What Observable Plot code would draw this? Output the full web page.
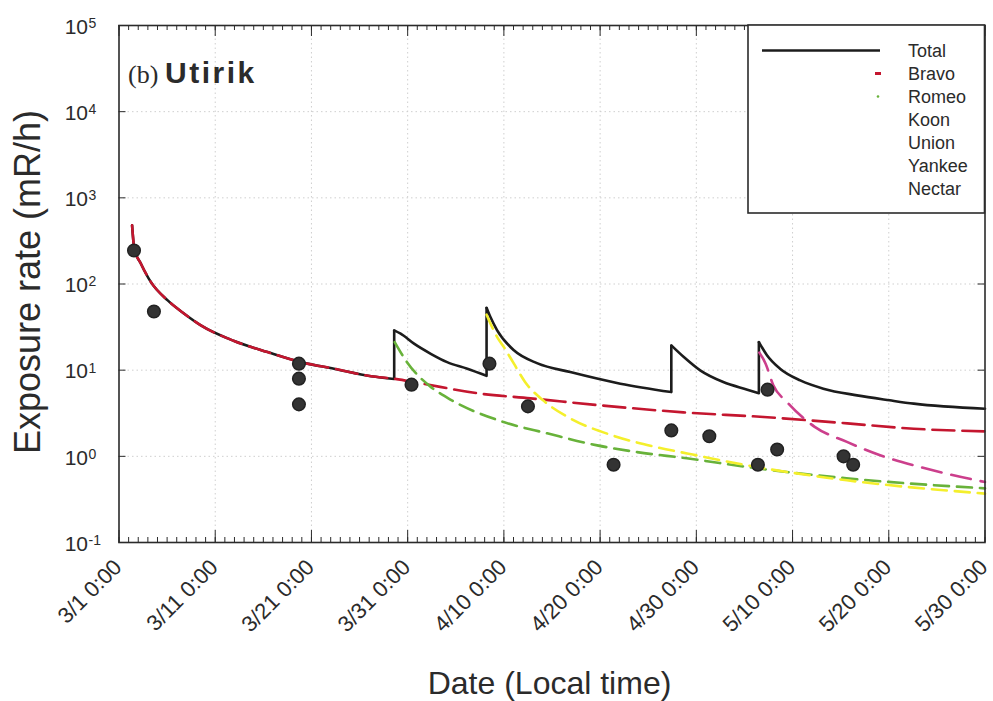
<!DOCTYPE html>
<html><head><meta charset="utf-8">
<script src="https://cdn.jsdelivr.net/npm/d3@7"></script>
<script src="https://cdn.jsdelivr.net/npm/@observablehq/plot@0.6"></script>
<style>body{margin:0;background:#fff}</style>
</head><body><div id="chart"></div>
<script>
// ---- data (days after 3/1 0:00 local time; exposure rate in mR/h) ----
const xTickDays = [0, 10, 20, 30, 40, 50, 60, 70, 80, 90];
const xTickLabels = ["3/1 0:00", "3/11 0:00", "3/21 0:00", "3/31 0:00", "4/10 0:00", "4/20 0:00", "4/30 0:00", "5/10 0:00", "5/20 0:00", "5/30 0:00"];
const yTickExps = [-1, 0, 1, 2, 3, 4, 5];

const totalDay = [1.36, 1.59, 2.28, 3.32, 5.06, 6.78, 8.51, 11.97, 15.44, 18.9, 22.35, 26.2, 28.6,
  28.6, 29.27, 30.66, 32.4, 34.1, 36.2, 38.2,
  38.2, 38.6, 39.3, 41.04, 43.5, 46.9, 52.1, 57.4,
  57.4, 58.7, 60.4, 62.8, 65.3, 66.5,
  66.5, 67.34, 68.7, 70.8, 73.2, 76.7, 80.1, 82.6, 90];
const totalRate = [479, 257, 172, 105, 64.5, 45.2, 33.1, 21.8, 16.2, 12.4, 10.4, 8.5, 7.9,
  29, 26.5, 20.3, 15.5, 12.4, 10.4, 8.6,
  53, 41.3, 29, 17, 12, 9.5, 6.97, 5.57,
  19.4, 14.2, 9.95, 7.28, 5.94, 5.4,
  21.2, 14.9, 10.4, 7.6, 6.1, 5.1, 4.47, 4.09, 3.57];
const totalSegment = [0,0,0,0,0,0,0,0,0,0,0,0,0, 1,1,1,1,1,1,1, 2,2,2,2,2,2,2,2, 3,3,3,3,3,3, 4,4,4,4,4,4,4,4,4];

const bravoDay = [1.36, 1.59, 2.28, 3.32, 5.06, 6.78, 8.51, 11.97, 15.44, 18.9, 22.35, 26.2, 28.58, 31.35, 37.6, 42.77, 50.0, 58.65, 67.0, 75.7, 82.6, 90];
const bravoRate = [479, 257, 172, 105, 64.5, 45.2, 33.1, 21.8, 16.2, 12.4, 10.4, 8.5, 7.96, 7.03, 5.33, 4.71, 3.91, 3.24, 2.86, 2.41, 2.09, 1.95];

const romeoDay = [28.65, 29.97, 32.4, 34.1, 39.97, 44.5, 49.7, 53.84, 59.0, 66.3, 75.6, 90];
const romeoRate = [21.2, 12.2, 6.4, 4.8, 2.5, 1.85, 1.34, 1.12, 0.948, 0.726, 0.556, 0.425];

const koonDay = [38.2, 39.3, 40.0, 41.04, 42.2, 44.15, 46.92, 51.07, 55.57, 59.04, 66.3, 75.65, 90];
const koonRate = [44, 24.2, 18.5, 11.9, 7.3, 4.4, 2.75, 1.78, 1.3, 1.08, 0.751, 0.527, 0.369];

const yankeeDay = [66.55, 67.2, 68.0, 69.42, 72.3, 75.65, 79.1, 83.26, 86.0, 90];
const yankeeRate = [16, 11.9, 6.67, 4.27, 2.2, 1.47, 1.03, 0.752, 0.63, 0.503];

const obsDay = [1.56, 3.63, 18.7, 18.7, 18.7, 30.4, 38.5, 42.5, 51.4, 57.4, 61.35, 66.4, 67.4, 68.4, 75.3, 76.3];
const obsRate = [245, 48, 11.9, 7.97, 4.01, 6.79, 11.9, 3.80, 0.80, 2.0, 1.71, 0.80, 5.94, 1.20, 1.0, 0.80];

const legendNames = ["Total", "Bravo", "Romeo", "Koon", "Union", "Yankee", "Nectar"];

// ---- build tables ----
const pts = (d, r) => d.map((day, i) => ({day, rate: r[i]}));
const total = totalDay.map((day, i) => ({day, rate: totalRate[i], seg: totalSegment[i]}));
const jumps = [];
for (let i = 1; i < total.length; i++) {
  if (total[i].seg !== total[i - 1].seg) jumps.push({day: total[i].day, lo: total[i - 1].rate, hi: total[i].rate});
}
const minorDays = d3.range(0, 91);
const decades = yTickExps.map(e => 10 ** e);

const W = 993, H = 701, mL = 118.5, mR = 8.5, mT = 25, mB = 159;
const pw = W - mL - mR, ph = H - mT - mB;
const ink = "#2b2b2b";
const cRed = "#c4162f", cGreen = "#68b23a", cYellow = "#f4ef2c", cMag = "#cc3f8c";
const sans = "'Liberation Sans', Arial, sans-serif";

const plot = Plot.plot({
  width: W, height: H,
  marginLeft: mL, marginRight: mR, marginTop: mT, marginBottom: mB,
  style: {fontFamily: sans, color: ink, background: "#fff"},
  x: {domain: [0, 90], axis: null},
  y: {type: "log", domain: [0.1, 1e5], axis: null},
  marks: [
    // light dotted grid
    Plot.ruleY(decades.slice(1, -1), {stroke: "#cfcfcf", strokeDasharray: "1.5,3"}),
    Plot.ruleX(xTickDays.slice(1, -1), {stroke: "#cfcfcf", strokeDasharray: "1.5,3"}),
    // inward ticks
    Plot.tickX(minorDays, {x: d => d, insetTop: ph - 5, stroke: ink}),
    Plot.tickX(xTickDays, {x: d => d, insetTop: ph - 12, stroke: ink}),
    Plot.tickX(minorDays, {x: d => d, insetBottom: ph - 5, stroke: ink}),
    Plot.tickX(xTickDays, {x: d => d, insetBottom: ph - 11, stroke: ink}),
    Plot.tickY(decades, {y: d => d, insetRight: pw - 7, stroke: ink}),
    Plot.tickY(decades, {y: d => d, insetLeft: pw - 7, stroke: ink}),
    // series
    Plot.line(total, {x: "day", y: "rate", z: "seg", stroke: "#1c1c1c", strokeWidth: 2.6, curve: "monotone-x"}),
    Plot.ruleX(jumps, {x: "day", y1: "lo", y2: "hi", stroke: "#1c1c1c", strokeWidth: 2.6}),
    Plot.line(pts(bravoDay, bravoRate), {x: "day", y: "rate", stroke: cRed, strokeWidth: 2.6, strokeDasharray: "22,8", curve: "monotone-x"}),
    Plot.line(pts(romeoDay, romeoRate), {x: "day", y: "rate", stroke: cGreen, strokeWidth: 2.6, strokeDasharray: "15,8", curve: "monotone-x"}),
    Plot.line(pts(koonDay, koonRate), {x: "day", y: "rate", stroke: cYellow, strokeWidth: 2.6, strokeDasharray: "15,8", curve: "monotone-x"}),
    Plot.line(pts(yankeeDay, yankeeRate), {x: "day", y: "rate", stroke: cMag, strokeWidth: 2.6, strokeDasharray: "20,10", curve: "monotone-x"}),
    Plot.dot(pts(obsDay, obsRate), {x: "day", y: "rate", r: 6.3, fill: "#333", stroke: "#222"}),
    Plot.frame({stroke: ink, strokeWidth: 1.6}),
    // y tick labels 10^n
    Plot.text(yTickExps, {y: e => 10 ** e, frameAnchor: "left", text: () => "10", textAnchor: "end", lineAnchor: "middle", dx: -31, dy: 1.5, fontSize: 21, fill: ink}),
    Plot.text(yTickExps, {y: e => 10 ** e, frameAnchor: "left", text: e => String(e), textAnchor: "start", lineAnchor: "middle", dx: -30.5, dy: -2, fontSize: 14, fill: ink}),
    // x tick labels
    Plot.text(xTickDays, {x: d => d, frameAnchor: "bottom", text: (d, i) => xTickLabels[i], rotate: -45, textAnchor: "end", lineAnchor: "middle", dx: -1, dy: 21, fontSize: 22, fill: ink}),
    // axis titles
    Plot.text(["Date (Local time)"], {frameAnchor: "bottom", lineAnchor: "middle", textAnchor: "middle", dy: 141, dx: -2.5, fontSize: 32, fill: ink}),
    Plot.text(["Exposure rate (mR/h)"], {frameAnchor: "left", lineAnchor: "middle", textAnchor: "middle", dx: -91, dy: -2, rotate: -90, fontSize: 36, fill: ink})
  ]
});
document.getElementById("chart").appendChild(plot);

// ---- panel title and legend ----
const svg = d3.select(plot);
const t = svg.append("text").attr("x", 128).attr("y", 83).attr("fill", ink).attr("text-anchor", "start");
t.append("tspan").attr("font-family", "'Liberation Serif', serif").attr("font-size", 26).text("(b)");
t.append("tspan").attr("x", 165).attr("font-family", sans).attr("font-weight", "bold").attr("font-size", 30).attr("letter-spacing", 2.5).text("Utirik");

const lg = svg.append("g").attr("font-family", sans).attr("font-size", 18).attr("fill", ink).attr("text-anchor", "start");
lg.append("rect").attr("x", 748).attr("y", mT).attr("width", W - mR - 748).attr("height", 188)
  .attr("fill", "#fff").attr("stroke", ink).attr("stroke-width", 1.6);
legendNames.forEach((name, i) => {
  lg.append("text").attr("x", 908).attr("y", 57 + 23 * i).text(name);
});
lg.append("line").attr("x1", 762).attr("x2", 880).attr("y1", 50.5).attr("y2", 50.5).attr("stroke", "#1c1c1c").attr("stroke-width", 2.6);
lg.append("line").attr("x1", 875).attr("x2", 881).attr("y1", 73.5).attr("y2", 73.5).attr("stroke", cRed).attr("stroke-width", 3);
lg.append("circle").attr("cx", 878).attr("cy", 96.5).attr("r", 1.3).attr("fill", cGreen);
</script>
</body></html>
